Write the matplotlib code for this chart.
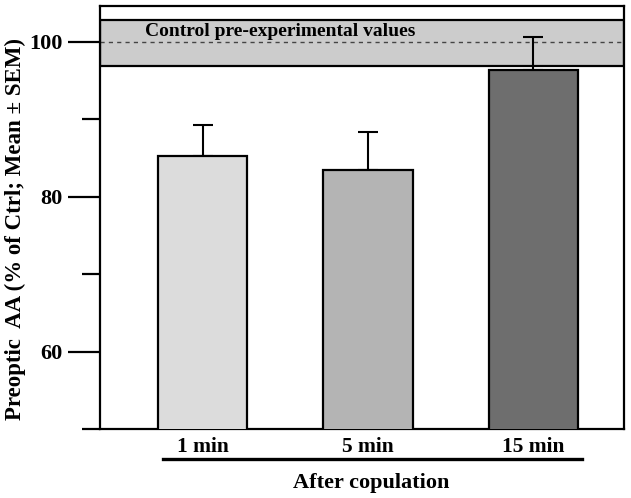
import numpy as np
import matplotlib.pyplot as plt
from matplotlib.lines import Line2D

plt.rcParams['font.family'] = ['Liberation Serif', 'DejaVu Serif']
plt.rcParams['font.weight'] = 'bold'

groups = ['1 min', '5 min', '15 min']
means = [85.2, 83.4, 96.4]
sems = [4.1, 4.9, 4.2]
colors = ['#dcdcdc', '#b4b4b4', '#6e6e6e']
ctrl_mean = 99.9
ctrl_lo = 96.9
ctrl_hi = 102.8

fig = plt.figure(figsize=(6.31, 4.98), dpi=100)
ax = fig.add_axes([0.1585, 0.1386, 0.8304, 0.8494])

x = np.arange(len(groups))

# control band
ax.axhspan(ctrl_lo, ctrl_hi, facecolor='#cccccc', edgecolor='black', lw=1.6, zorder=1)
ax.axhline(ctrl_mean, color='#444444', ls=(0, (3, 3)), lw=1.0, zorder=2)
ax.text(-0.347, ctrl_mean + 1.4, 'Control pre-experimental values', fontsize=14,
        fontweight='bold', va='center', ha='left', zorder=3)

ax.bar(x, means, width=0.54, color=colors, edgecolor='black', lw=1.6, zorder=3)
ax.errorbar(x, means, yerr=[np.zeros(3), sems], fmt='none', ecolor='black',
            elinewidth=1.5, capsize=7, capthick=1.5, zorder=2)

ax.set_ylim(50, 104.6)
ax.set_xlim(-0.62, 2.547)
ax.set_yticks([60, 80, 100])
ax.set_yticks([50, 70, 90], minor=True)
ax.tick_params(axis='y', which='major', length=23, width=1.6, labelsize=16, pad=4)
ax.tick_params(axis='y', which='minor', length=13, width=1.6)
ax.set_xticks(x)
ax.set_xticklabels(groups)
ax.tick_params(axis='x', length=0, labelsize=15.5, pad=6)
for lab in ax.get_yticklabels() + ax.get_xticklabels():
    lab.set_fontweight('bold')
for s in ax.spines.values():
    s.set_linewidth(1.6)

ax.set_ylabel('Preoptic  AA (% of Ctrl; Mean \u00b1 SEM)', fontsize=16.5,
              fontweight='bold')
ax.yaxis.set_label_coords(-0.142, 0.473)

# underline and group label
fig.add_artist(Line2D([163 / 631, 582 / 631], [1 - 459 / 498, 1 - 459 / 498],
                      color='black', lw=2.4))
fig.text(371 / 631, 1 - 483 / 498, 'After copulation', fontsize=16,
         fontweight='bold', ha='center', va='center')

fig.savefig('out.png', dpi=100)
